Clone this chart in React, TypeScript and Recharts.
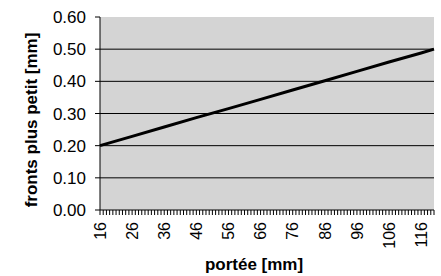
import { LineChart, Line, XAxis, YAxis, CartesianGrid, ReferenceLine, Label } from 'recharts';

// values (straight line from 16 mm to 120 mm)
const portee = [16, 26, 36, 46, 56, 66, 76, 86, 96, 106, 116, 120];
const fronts = [0.2, 0.229, 0.258, 0.287, 0.315, 0.344, 0.373, 0.402, 0.431, 0.46, 0.488, 0.5];

const xLabels = [16, 26, 36, 46, 56, 66, 76, 86, 96, 106, 116];
const yTicks = [0, 0.1, 0.2, 0.3, 0.4, 0.5, 0.6];
const gridLines = [0.1, 0.2, 0.3, 0.4, 0.5];

// one tick mark per mm on the category axis
const xMinorTicks = Array.from({ length: 105 }, (_, i) => 16 + i);

const data = portee.map((p, i) => ({ portee: p, fronts: fronts[i] }));

const FONT = '"Liberation Sans", Arial, sans-serif';

function XTick(props: any) {
  const { x, y, payload } = props;
  if (!xLabels.includes(payload.value)) return null;
  return (
    <text
      x={x}
      y={y}
      dy="0.36em"
      textAnchor="end"
      transform={`rotate(-90, ${x}, ${y})`}
      fontSize={16}
      fontFamily={FONT}
      fill="#000"
    >
      {payload.value}
    </text>
  );
}

export default function App() {
  return (
    <div style={{ position: 'absolute', left: 0, top: 0, width: 441, height: 276, background: '#fff' }}>
      <LineChart width={441} height={276} data={data} margin={{ top: 17, right: 7, bottom: 0, left: 0 }}>
        <CartesianGrid horizontal={false} vertical={false} fill="#d4d4d4" />
        {gridLines.map(v => (
          <ReferenceLine key={v} y={v} stroke="#000" strokeWidth={1} />
        ))}
        <XAxis
          dataKey="portee"
          type="number"
          domain={[16, 120]}
          ticks={xMinorTicks}
          interval={0}
          tick={<XTick />}
          tickSize={5}
          tickMargin={7}
          height={66}
          axisLine={{ stroke: '#000' }}
          tickLine={{ stroke: '#000' }}
        >
          <Label
            content={() => (
              <text x={254} y={270} textAnchor="middle" fontSize={17} fontWeight="bold" fontFamily={FONT} fill="#000">
                portée [mm]
              </text>
            )}
          />
        </XAxis>
        <YAxis
          type="number"
          domain={[0, 0.6]}
          ticks={yTicks}
          interval={0}
          width={100}
          tickSize={5}
          tickMargin={9}
          tickFormatter={(v: number) => v.toFixed(2)}
          tick={{ fontSize: 17, fontFamily: FONT, fill: '#000' }}
          axisLine={{ stroke: '#000' }}
          tickLine={{ stroke: '#000' }}
        >
          <Label
            content={() => (
              <text
                x={31}
                y={120}
                dy="0.36em"
                textAnchor="middle"
                transform="rotate(-90, 31, 120)"
                fontSize={17}
                fontWeight="bold"
                fontFamily={FONT}
                fill="#000"
              >
                fronts plus petit [mm]
              </text>
            )}
          />
        </YAxis>
        <Line
          type="linear"
          dataKey="fronts"
          stroke="#000"
          strokeWidth={3}
          dot={false}
          isAnimationActive={false}
        />
      </LineChart>
    </div>
  );
}
